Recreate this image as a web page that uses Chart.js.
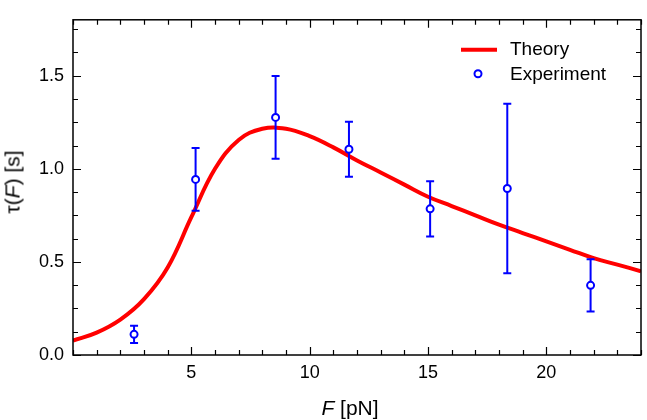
<!DOCTYPE html>
<html>
<head>
<meta charset="utf-8">
<script src="https://cdn.jsdelivr.net/npm/chart.js@4.4.0/dist/chart.umd.min.js"></script>
<style>
  body { margin: 0; background: #fff; font-family: "Liberation Sans", Arial, sans-serif; }
  #wrap { position: relative; width: 647px; height: 420px; }
  .ttl { position: absolute; font-size: 21px; line-height: 21px; color: #000; white-space: nowrap; }
  #xtitle { left: 300px; top: 397px; width: 100px; text-align: center; }
  #ytitle { left: 12px; top: 182px; transform: translate(-50%, -50%) rotate(-90deg); }
</style>
</head>
<body>
<div id="wrap">
  <canvas id="chart"></canvas>
  <div class="ttl" id="xtitle"><i>F</i> [pN]</div>
  <div class="ttl" id="ytitle">τ(<i>F</i>) [s]</div>
</div>
<script>
// theory curve
const theoryF = [0, 1, 2, 3, 4, 5, 6, 7, 8, 9, 10, 11, 12, 13, 14, 15, 16, 17, 18, 19, 20, 21, 22, 23, 24];
const theoryTau = [0.077, 0.12, 0.19, 0.30, 0.47, 0.74, 1.0, 1.155, 1.215, 1.215, 1.175, 1.115, 1.045, 0.98, 0.915, 0.85, 0.80, 0.75, 0.70, 0.655, 0.61, 0.565, 0.52, 0.485, 0.45];

// measurements
const expF = [2.58, 5.18, 8.56, 11.66, 15.09, 18.35, 21.87];
const expTau = [0.111, 0.943, 1.276, 1.105, 0.785, 0.894, 0.374];
const expErr = [0.046, 0.169, 0.222, 0.148, 0.148, 0.455, 0.14];

const xTicks = [5, 10, 15, 20];
const xTickLabels = ["5", "10", "15", "20"];
const yTicks = [0, 0.5, 1.0, 1.5];
const yTickLabels = ["0.0", "0.5", "1.0", "1.5"];

const RED = "#ff0000";
const BLUE = "#0000ff";

Chart.defaults.font.family = '"Liberation Sans", Arial, sans-serif';
Chart.defaults.font.size = 18;
Chart.defaults.color = "#000";

// error bars go under the circles
const errorBars = {
  id: "errorBars",
  beforeDatasetDraw(chart, args) {
    if (args.index !== 1) return;
    const { ctx, scales: { x, y } } = chart;
    ctx.save();
    ctx.strokeStyle = BLUE;
    ctx.lineWidth = 2;
    expF.forEach((f, i) => {
      const px = x.getPixelForValue(f);
      const top = y.getPixelForValue(expTau[i] + expErr[i]);
      const bot = y.getPixelForValue(expTau[i] - expErr[i]);
      ctx.beginPath();
      ctx.moveTo(px, top); ctx.lineTo(px, bot);
      ctx.moveTo(px - 4, top); ctx.lineTo(px + 4, top);
      ctx.moveTo(px - 4, bot); ctx.lineTo(px + 4, bot);
      ctx.stroke();
    });
    ctx.restore();
  }
};

// box frame with inward ticks on all four sides, plus legend
const frame = {
  id: "frame",
  afterDraw(chart) {
    const { ctx, chartArea: a, scales: { x, y } } = chart;
    ctx.save();
    ctx.strokeStyle = "#000";
    ctx.lineWidth = 1.2;
    ctx.beginPath();
    for (let i = 0; i <= 24; i++) {
      const px = Math.round(x.getPixelForValue(i)) + 0.5;
      const len = xTicks.includes(i) ? 8 : 5;
      ctx.moveTo(px, a.bottom); ctx.lineTo(px, a.bottom - len);
      ctx.moveTo(px, a.top); ctx.lineTo(px, a.top + len);
    }
    for (let i = 0; i <= 14; i++) {
      const v = i * 0.125;
      const py = Math.round(y.getPixelForValue(v)) + 0.5;
      const len = i % 4 === 0 ? 8 : 5;
      ctx.moveTo(a.left, py); ctx.lineTo(a.left + len, py);
      ctx.moveTo(a.right, py); ctx.lineTo(a.right - len, py);
    }
    ctx.stroke();
    ctx.lineWidth = 1.5;
    ctx.strokeRect(a.left, a.top, a.right - a.left, a.bottom - a.top);

    // legend
    const lx = a.right - 180;
    ctx.strokeStyle = RED;
    ctx.lineWidth = 4;
    ctx.beginPath();
    ctx.moveTo(lx, a.top + 30); ctx.lineTo(lx + 36, a.top + 30);
    ctx.stroke();
    ctx.strokeStyle = BLUE;
    ctx.lineWidth = 2;
    ctx.beginPath();
    ctx.arc(lx + 17, a.top + 54, 3.5, 0, Math.PI * 2);
    ctx.stroke();
    ctx.fillStyle = "#000";
    ctx.font = '19px "Liberation Sans", Arial, sans-serif';
    ctx.textBaseline = "alphabetic";
    ctx.fillText(chart.data.datasets[0].label, lx + 49, a.top + 35);
    ctx.fillText(chart.data.datasets[1].label, lx + 49, a.top + 60.5);
    ctx.restore();
  }
};

new Chart(document.getElementById("chart"), {
  type: "scatter",
  data: {
    datasets: [
      {
        type: "line",
        label: "Theory",
        data: theoryF.map((f, i) => ({ x: f, y: theoryTau[i] })),
        borderColor: RED,
        borderWidth: 4,
        pointRadius: 0,
        tension: 0.4,
        order: 2
      },
      {
        label: "Experiment",
        data: expF.map((f, i) => ({ x: f, y: expTau[i] })),
        borderColor: BLUE,
        backgroundColor: "#fff",
        borderWidth: 2,
        pointRadius: 3.5,
        order: 1
      }
    ]
  },
  options: {
    responsive: true,
    maintainAspectRatio: false,
    animation: false,
    layout: { padding: { top: 3, right: 4, left: 0, bottom: 0 } },
    plugins: { legend: { display: false }, tooltip: { enabled: false } },
    scales: {
      x: {
        type: "linear",
        min: 0,
        max: 24,
        grid: { display: false, drawTicks: false },
        border: { display: false },
        afterBuildTicks: s => { s.ticks = xTicks.map(v => ({ value: v })); },
        afterFit: s => { s.height = 65; },
        ticks: { padding: 7, maxRotation: 0, callback: (v, i) => xTickLabels[i] }
      },
      y: {
        type: "linear",
        min: 0,
        max: 1.8,
        grid: { display: false, drawTicks: false },
        border: { display: false },
        afterBuildTicks: s => { s.ticks = yTicks.map(v => ({ value: v })); },
        afterFit: s => { s.width = 73; },
        ticks: { padding: 9, callback: (v, i) => yTickLabels[i] }
      }
    }
  },
  plugins: [errorBars, frame]
});
</script>
</body>
</html>
